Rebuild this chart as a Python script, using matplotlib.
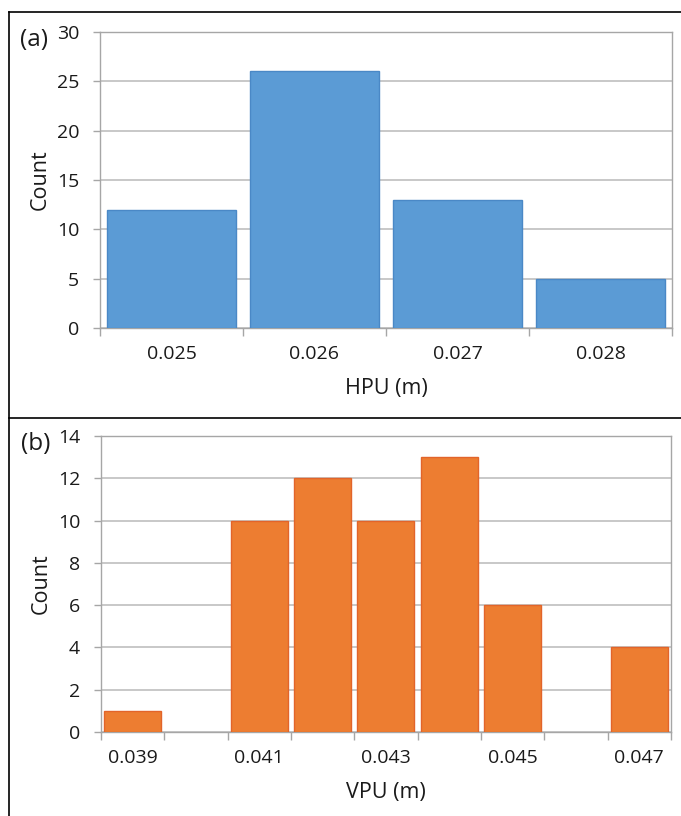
import matplotlib
matplotlib.use("Agg")
import matplotlib.pyplot as plt
import numpy as np
from matplotlib.lines import Line2D

plt.rcParams['font.family'] = ['Open Sans', 'DejaVu Sans']

# panel (a): horizontal positioning uncertainty
hpu_bins = ["0.025", "0.026", "0.027", "0.028"]
hpu_counts = [12, 26, 13, 5]

# panel (b): vertical positioning uncertainty
vpu_bins = ["0.039", "0.040", "0.041", "0.042", "0.043", "0.044", "0.045", "0.046", "0.047"]
vpu_counts = [1, 0, 10, 12, 10, 13, 6, 0, 4]

W, H = 681, 816
fig = plt.figure(figsize=(W / 100, H / 100), dpi=100)

GRID = "#BFBFBF"
AXC = "#A6A6A6"
TXT = "#1a1a1a"


def panel(rect, cats, counts, ymax, ystep, face, edge, xlabel, tag, every):
    ax = fig.add_axes(rect)
    x = np.arange(len(cats))
    counts = np.array(counts)
    keep = counts > 0  # empty bins draw nothing
    ax.bar(x[keep], counts[keep], width=0.9, color=face, edgecolor=edge, linewidth=1, zorder=3)
    ax.set_xlim(-0.5, len(cats) - 0.5)
    ax.set_ylim(0, ymax)
    ax.set_yticks(np.arange(0, ymax + 1, ystep))
    ax.yaxis.grid(True, color=GRID, linewidth=1.2, zorder=0)
    ax.set_xticks(x[::every])
    ax.set_xticklabels(cats[::every])
    ax.set_xticks(np.arange(-0.5, len(cats)), minor=True)
    ax.tick_params(axis="x", which="major", length=0, pad=12, labelsize=14, labelcolor=TXT)
    ax.tick_params(axis="x", which="minor", length=6, color=AXC, width=1)
    ax.tick_params(axis="y", length=5, color=AXC, width=1, pad=10, labelsize=14, labelcolor=TXT)
    for s in ax.spines.values():
        s.set_color(AXC)
        s.set_linewidth(1)
    ax.set_ylabel("Count", fontsize=15.5, labelpad=4, color=TXT)
    ax.set_xlabel(xlabel, fontsize=15.5, labelpad=11, color=TXT)
    ax.text(-80 / (rect[2] * W), 1.0 - 8 / (rect[3] * H), tag, transform=ax.transAxes,
            fontsize=17.5, va="center", ha="left", color=TXT)
    return ax


panel([100 / W, 1 - 328 / H, 572 / W, 296 / H], hpu_bins, hpu_counts, 30, 5,
      "#5B9BD5", "#4A88C6", "HPU (m)", "(a)", 1)
panel([101 / W, 1 - 732 / H, 570 / W, 296 / H], vpu_bins, vpu_counts, 14, 2,
      "#ED7D31", "#E2642A", "VPU (m)", "(b)", 2)

# frame lines around the two panels
fig.add_artist(Line2D([9 / W, 1], [1 - 12 / H, 1 - 12 / H], color="black", linewidth=1.2))
fig.add_artist(Line2D([9 / W, 1], [1 - 418 / H, 1 - 418 / H], color="black", linewidth=1.2))
fig.add_artist(Line2D([9 / W, 9 / W], [0, 1 - 12 / H], color="black", linewidth=1.2))

plt.savefig("out.png", dpi=100)
